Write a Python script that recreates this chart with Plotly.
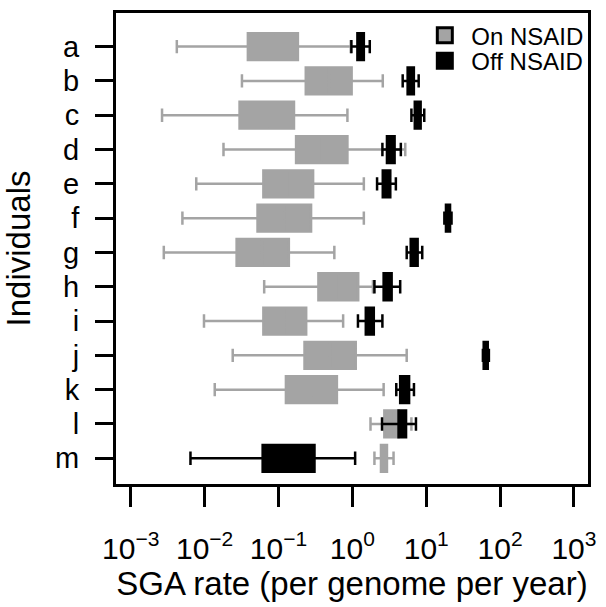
import plotly.graph_objects as go

# individuals, top to bottom
individuals = ['a', 'b', 'c', 'd', 'e', 'f', 'g', 'h', 'i', 'j', 'k', 'l', 'm']

# On NSAID (grey) - SGA rate per genome per year
on_lo = [0.0042, 0.032, 0.00265, 0.018, 0.0077, 0.005, 0.0028, 0.064, 0.0098, 0.024, 0.0137, 1.76, 1.99]
on_q1 = [0.0385, 0.234, 0.0297, 0.173, 0.0624, 0.052, 0.0271, 0.347, 0.0624, 0.225, 0.126, 2.71, 2.44]
on_med = [0.085, 0.48, 0.07, 0.38, 0.14, 0.12, 0.06, 0.65, 0.12, 0.5, 0.28, 3.4, 2.7]
on_q3 = [0.183, 0.977, 0.162, 0.857, 0.294, 0.276, 0.138, 1.20, 0.237, 1.11, 0.617, 4.22, 2.94]
on_hi = [0.95, 2.58, 0.857, 5.2, 1.43, 1.43, 0.57, 1.9, 0.75, 5.44, 2.65, 6.3, 3.61]

# Off NSAID (black)
off_lo = [0.97, 4.8, 6.3, 2.55, 2.16, 17.6, 5.44, 1.99, 1.19, 58.5, 3.93, 2.52, 0.00643]
off_q1 = [1.17, 5.6, 7.0, 2.94, 2.58, 18.5, 6.17, 2.65, 1.52, 60, 4.44, 4.22, 0.061]
off_med = [1.3, 6.2, 7.7, 3.3, 2.9, 19.7, 6.9, 3.0, 1.72, 64, 5.1, 4.7, 0.14]
off_q3 = [1.43, 6.8, 8.4, 3.73, 3.26, 21, 7.65, 3.40, 1.95, 68, 5.86, 5.33, 0.307]
off_hi = [1.72, 7.9, 9.4, 4.53, 3.88, 22, 8.83, 4.44, 2.55, 70.5, 6.82, 7.26, 1.09]

tick_vals = [1e-3, 1e-2, 1e-1, 1, 10, 100, 1000]
tick_text = ['10<sup>\u22123</sup>', '10<sup>\u22122</sup>', '10<sup>\u22121</sup>',
             '10<sup>0</sup>', '10<sup>1</sup>', '10<sup>2</sup>', '10<sup>3</sup>']

GREY = '#a4a4a4'
FONT = 'Liberation Sans, Arial, sans-serif'

fig = go.Figure()

fig.add_trace(go.Box(y=individuals, lowerfence=on_lo, q1=on_q1, median=on_med, q3=on_q3,
                     upperfence=on_hi, orientation='h', fillcolor=GREY,
                     line=dict(color=GREY, width=2.5), width=0.78, whiskerwidth=0.5,
                     boxpoints=False, showlegend=False, name='On NSAID'))
fig.add_trace(go.Box(y=individuals, lowerfence=off_lo, q1=off_q1, median=off_med, q3=off_q3,
                     upperfence=off_hi, orientation='h', fillcolor='black',
                     line=dict(color='black', width=2.5), width=0.78, whiskerwidth=0.5,
                     boxpoints=False, showlegend=False, name='Off NSAID'))

# legend entries (one legend each so the spacing can be tight)
fig.add_trace(go.Scatter(x=[None], y=[None], mode='markers', name='On NSAID', legend='legend',
                         marker=dict(symbol='square', size=15, color=GREY,
                                     line=dict(color='black', width=3))))
fig.add_trace(go.Scatter(x=[None], y=[None], mode='markers', name='Off NSAID', legend='legend2',
                         marker=dict(symbol='square', size=15, color='black',
                                     line=dict(color='black', width=3))))

leg = dict(x=0.6405, xanchor='left', yanchor='middle', bgcolor='rgba(0,0,0,0)',
           font=dict(size=24), itemwidth=43)

fig.update_layout(
    width=606, height=607,
    margin=dict(l=116, r=13, t=10, b=123),
    paper_bgcolor='white', plot_bgcolor='white',
    boxmode='overlay',
    font=dict(family=FONT, color='black'),
    legend=dict(leg, y=0.952),
    legend2=dict(leg, y=0.898),
    xaxis=dict(type='log', range=[-3.2, 3.19], tickvals=tick_vals, ticktext=tick_text,
               showgrid=False, zeroline=False, showline=True, mirror=True,
               linecolor='black', linewidth=3, ticks='outside', ticklen=20,
               tickwidth=3, tickcolor='black', tickfont=dict(size=30),
               ticklabelstandoff=16,
               title=dict(text='SGA rate (per genome per year)', font=dict(size=33),
                          standoff=4)),
    yaxis=dict(type='category', categoryorder='array', categoryarray=individuals,
               tickmode='array', tickvals=individuals, ticktext=individuals,
               range=[12.75, -0.98], showgrid=False, zeroline=False, showline=True,
               mirror=True, linecolor='black', linewidth=3, ticks='outside',
               ticklen=18, tickwidth=3, tickcolor='black', tickfont=dict(size=29),
               ticklabelstandoff=10,
               title=dict(text='Individuals', font=dict(size=33), standoff=18)),
)

fig.write_html('out.html', config={'displayModeBar': False},
               post_script="document.body.style.margin='0';")
